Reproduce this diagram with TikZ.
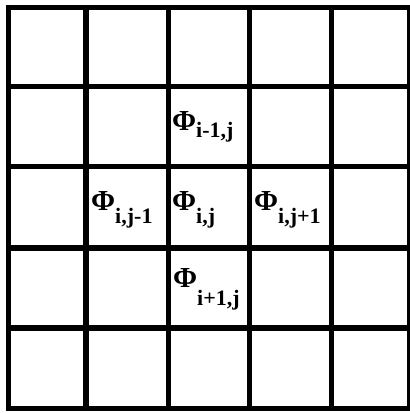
\documentclass[tikz,border=0pt]{standalone}
\usepackage{fontspec}
\setmainfont{Liberation Serif}
\newcommand{\phifont}{\fontsize{29}{29}\selectfont\bfseries}
\newcommand{\subfnt}{\fontsize{22}{22}\selectfont\bfseries}
\newcommand{\philab}[2]{{\phifont Φ}\raisebox{-#1pt}{\subfnt #2}}
\begin{document}
\begin{tikzpicture}[x=1pt,y=-1pt,
  gridline/.style={line width=5.5pt,line cap=rect},
  border/.style={line width=4.5pt,line cap=rect},
  lab/.style={anchor=base west,inner sep=0pt}]
\useasboundingbox (0,0) rectangle (410,413);
\fill[white] (0,0) rectangle (410,413);
% interior lines
\foreach \x in {86,168.5,249.5,331.5}{\draw[gridline] (\x,7.5) -- (\x,408.5);}
\foreach \y in {86.5,166.5,248,328}{\draw[gridline] (8.5,\y) -- (409,\y);}
% border
\draw[border] (8.5,7.5) rectangle (409,408.5);
% labels
\node[lab] (up) at (172,130) {\philab{7}{i-1,j}};
\node[lab] (left) at (91,210) {\philab{13}{i,j-1}};
\node[lab] (mid) at (172,210) {\philab{13}{i,j}};
\node[lab] (right) at (254,210) {\philab{13}{i,j+1}};
\node[lab] (down) at (173,287) {\philab{18}{i+1,j}};
\end{tikzpicture}
\end{document}
